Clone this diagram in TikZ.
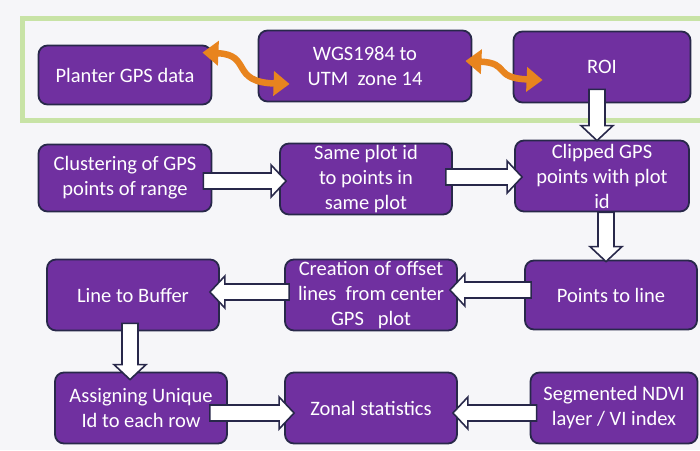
\documentclass[tikz,border=0pt]{standalone}
\usepackage{fontspec}
\setmainfont{Carlito}
\usepackage{xcolor}
\usepackage{tikz}
\usetikzlibrary{arrows.meta, calc}

\definecolor{stepPurple}{HTML}{7030A0}
\definecolor{stepEdge}{HTML}{28284A}
\definecolor{linkOrange}{HTML}{E8841E}
\definecolor{frameGreen}{HTML}{C8E3A6}
\definecolor{paper}{HTML}{F6F6F9}

% hollow block arrow, tail at #1 and tip at #2
\newcommand{\fatarrow}[2]{%
  \coordinate (fa-a) at (#1);
  \coordinate (fa-b) at (#2);
  \coordinate (fa-n) at ($(fa-b)!15pt!(fa-a)$);
  \draw[fat] ($(fa-a)!8pt!90:(fa-b)$) -- ($(fa-n)!8pt!90:(fa-b)$)
    -- ($(fa-n)!16pt!90:(fa-b)$) -- (fa-b) -- ($(fa-n)!16pt!-90:(fa-b)$)
    -- ($(fa-n)!8pt!-90:(fa-b)$) -- ($(fa-a)!8pt!-90:(fa-b)$) -- cycle;
}

\begin{document}
\begin{tikzpicture}[x=1pt, y=-1pt,
    box/.style={draw=stepEdge, line width=1.8pt, fill=stepPurple, rounded corners=9pt,
      text=white, align=center, inner sep=0pt, minimum width=172pt, minimum height=71pt,
      font=\fontsize{20.5}{25}\selectfont},
    fat/.style={draw=stepEdge, fill=white, line width=1.6pt, line join=miter},
    wavy/.style={{Triangle[length=16pt,width=24pt]}-{Triangle[length=16pt,width=24pt]},
      draw=linkOrange, line width=6.5pt},
    frame/.style={draw=frameGreen, line width=5pt}
  ]
  \fill[paper] (0,0) rectangle (700,450);
  \useasboundingbox (0,0) rectangle (700,450);

  \draw[frame] (22,18) rectangle (712,120);

  \node[box, minimum width=173pt, minimum height=59pt] (plant) at (125,75)  {Planter GPS data};
  \node[box, minimum width=213pt] (wgs)    at (365,66)  {WGS1984 to\\UTM\ \ zone 14};
  \node[box, minimum width=177pt] (roi)    at (602,67)  {ROI};
  \node[box, minimum width=173pt, minimum height=67pt] (clus) at (125,178) {Clustering of GPS\\points of range};
  \node[box] (same)   at (366,179) {Same plot id\\to points in\\same plot};
  \node[box, minimum width=174pt] (clip)   at (602,176) {Clipped GPS\\points with plot\\id};
  \node[box, minimum height=69pt] (ptl)    at (611,295) {Points to line};
  \node[box] (crea)   at (371,295) {Creation of offset\\lines\ \ from center\\GPS\ \ \ plot};
  \node[box] (ltb)    at (133,295) {Line to Buffer};
  \node[box] (assign) at (141,408) {Assigning Unique\\Id to each row};
  \node[box] (zonal)  at (371,408) {Zonal statistics};
  \node[box, minimum width=167pt] (seg) at (614,408) {Segmented NDVI\\layer / VI index};

  % two-way links inside the green frame
  \coordinate (gA) at ($(plant.north east)+(-10,8)$);
  \coordinate (gB) at ($(wgs.west)+(32,18)$);
  \coordinate (hA) at ($(wgs.east)+(-7,-5)$);
  \coordinate (hB) at ($(roi.west)+(30,13)$);
  \draw[wavy] (gA) .. controls +(50,2) and +(-60,-2) .. (gB);
  \draw[wavy] (hA) .. controls +(45,2) and +(-50,-2) .. (hB);

  \coordinate (r1) at ($(roi.south)+(-5,-14)$);
  \coordinate (r2) at ($(clip.south)+(4,0)$);
  \coordinate (r3) at ($(ltb.south)+(-3,-8)$);
  \fatarrow{r1}{$(r1 |- clip.north)+(0,1)$}
  \fatarrow{$(clus.east)+(-9,3)$}{$(same.west)+(7,2)$}
  \fatarrow{$(same.east)+(-7,-2)$}{$(clip.west)+(8,1)$}
  \fatarrow{r2}{$(r2 |- ptl.north)+(0,2)$}
  \fatarrow{$(ptl.west)+(7,-5)$}{$(crea.east)+(-8,-5)$}
  \fatarrow{$(crea.west)+(5,-3)$}{$(ltb.east)+(-10,-3)$}
  \fatarrow{r3}{$(r3 |- assign.north)+(0,8)$}
  \fatarrow{$(assign.east)+(-18,5)$}{$(zonal.west)+(10,5)$}
  \fatarrow{$(seg.west)+(7,5)$}{$(zonal.east)+(-5,5)$}
\end{tikzpicture}
\end{document}
